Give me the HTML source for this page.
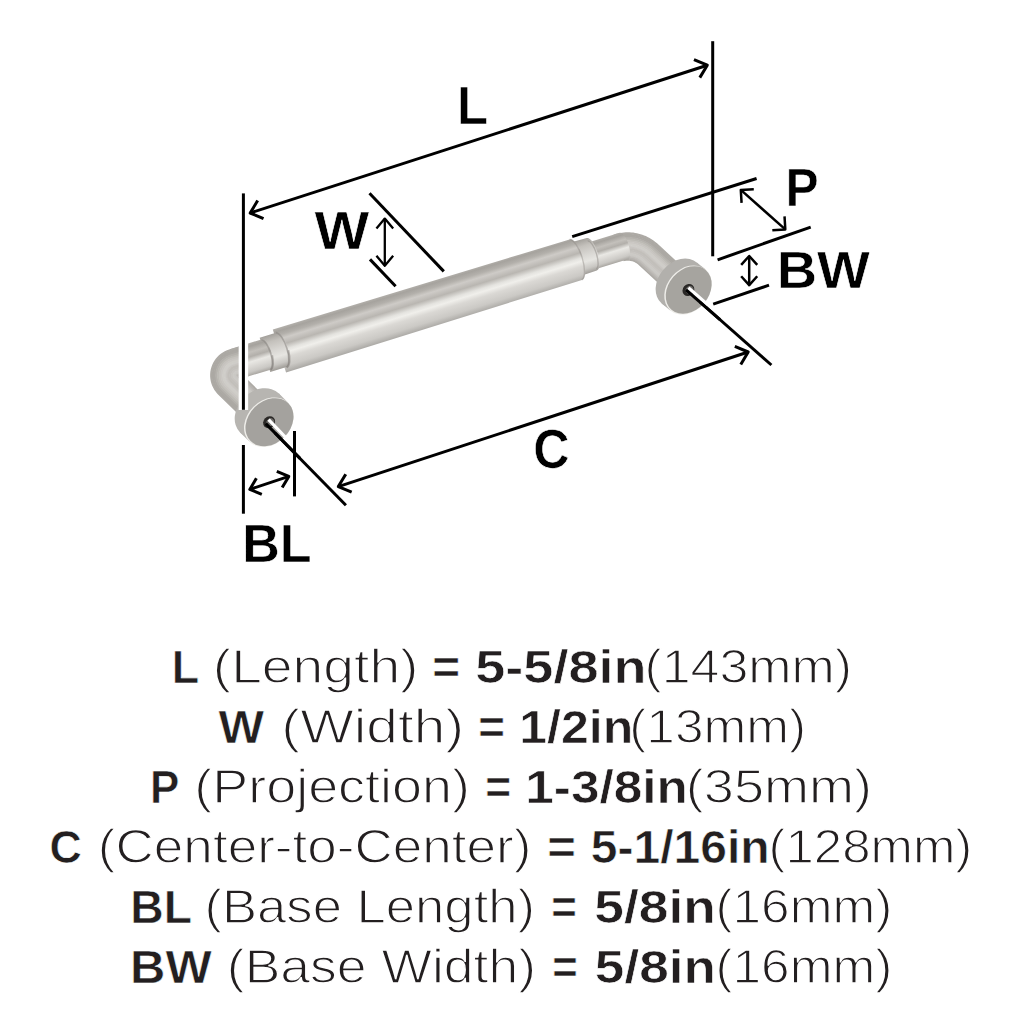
<!DOCTYPE html>
<html><head><meta charset="utf-8"><style>
html,body{margin:0;padding:0;background:#fff;}
svg{display:block;}
text{font-family:"Liberation Sans",sans-serif;}
</style></head><body>
<svg width="1024" height="1024" viewBox="0 0 1024 1024">
<rect width="1024" height="1024" fill="#fff"/>
<defs><linearGradient id="gMain" x1="0" y1="0" x2="0" y2="1"><stop offset="0" stop-color="#b4b1ac"/><stop offset="0.07" stop-color="#a6a39e"/><stop offset="0.16" stop-color="#b3b0ab"/><stop offset="0.25" stop-color="#cecbc7"/><stop offset="0.38" stop-color="#b9b6b1"/><stop offset="0.5" stop-color="#e4e3df"/><stop offset="0.57" stop-color="#f0efeb"/><stop offset="0.68" stop-color="#dad8d4"/><stop offset="0.86" stop-color="#cbc9c5"/><stop offset="0.95" stop-color="#b6b4b0"/><stop offset="1" stop-color="#aaa8a4"/></linearGradient><linearGradient id="gRod" x1="0" y1="0" x2="0" y2="1"><stop offset="0" stop-color="#b0ada8"/><stop offset="0.1" stop-color="#a5a29d"/><stop offset="0.28" stop-color="#c3c0bb"/><stop offset="0.42" stop-color="#b2afaa"/><stop offset="0.58" stop-color="#e9e8e4"/><stop offset="0.7" stop-color="#dddbd7"/><stop offset="0.88" stop-color="#cac8c4"/><stop offset="1" stop-color="#a9a6a1"/></linearGradient><linearGradient id="gCol" x1="0" y1="0" x2="0" y2="1"><stop offset="0" stop-color="#a3a09b"/><stop offset="0.2" stop-color="#c4c1bc"/><stop offset="0.45" stop-color="#d8d6d2"/><stop offset="0.65" stop-color="#e6e5e1"/><stop offset="0.85" stop-color="#c9c7c3"/><stop offset="1" stop-color="#9e9b96"/></linearGradient></defs>
<polygon points="627.34,259.70 625.41,260.46 616.60,233.71 618.41,233.28 620.25,232.92 622.09,232.64 623.95,232.44 625.81,232.32 627.68,232.27 629.54,232.31 631.41,232.42 633.26,232.61 635.11,232.88 636.95,233.23 638.76,233.65 640.56,234.16 642.34,234.73 644.09,235.38 645.81,236.11 647.50,236.90 649.15,237.77 650.77,238.71 652.34,239.71 653.87,240.78 655.35,241.91 657.08,243.36 689.01,272.75 687.54,274.35 655.60,244.97 654.00,243.62 652.59,242.54 651.13,241.52 649.63,240.57 648.10,239.68 646.53,238.85 644.92,238.10 643.28,237.41 641.62,236.79 639.93,236.24 638.22,235.76 636.49,235.36 634.75,235.03 632.99,234.77 631.23,234.59 629.46,234.48 627.68,234.45 625.91,234.49 624.14,234.61 622.37,234.80 620.62,235.07 618.88,235.41 617.15,235.82 624.43,258.52 626.50,257.69" fill="#adaaa5"/><polygon points="626.73,258.25 624.70,259.05 617.00,235.24 618.75,234.82 620.52,234.48 622.30,234.21 624.08,234.01 625.88,233.89 627.68,233.85 629.48,233.88 631.28,233.99 633.07,234.18 634.85,234.44 636.62,234.77 638.37,235.18 640.11,235.67 641.82,236.22 643.51,236.85 645.17,237.55 646.79,238.32 648.39,239.15 649.95,240.06 651.46,241.02 652.94,242.05 654.37,243.15 656.01,244.53 687.95,273.91 686.47,275.51 654.54,246.13 653.01,244.85 651.65,243.81 650.25,242.83 648.81,241.92 647.34,241.06 645.82,240.27 644.28,239.54 642.70,238.87 641.10,238.28 639.48,237.75 637.83,237.29 636.17,236.90 634.49,236.59 632.80,236.34 631.10,236.16 629.40,236.06 627.69,236.03 625.98,236.07 624.27,236.18 622.58,236.37 620.89,236.62 619.21,236.95 617.55,237.35 623.71,257.11 625.90,256.24" fill="#aba8a3"/><polygon points="626.13,256.79 623.98,257.64 617.40,236.77 619.08,236.36 620.78,236.03 622.50,235.77 624.22,235.58 625.95,235.47 627.69,235.43 629.42,235.46 631.15,235.56 632.87,235.74 634.59,235.99 636.29,236.32 637.98,236.71 639.65,237.18 641.30,237.71 642.92,238.32 644.52,238.99 646.09,239.73 647.63,240.53 649.13,241.40 650.59,242.34 652.01,243.33 653.39,244.38 654.94,245.69 686.88,275.07 685.40,276.68 653.47,247.29 652.03,246.08 650.72,245.09 649.38,244.15 647.99,243.26 646.57,242.44 645.12,241.68 643.63,240.98 642.12,240.34 640.58,239.77 639.02,239.26 637.44,238.82 635.84,238.45 634.23,238.14 632.60,237.90 630.97,237.74 629.33,237.64 627.69,237.61 626.05,237.64 624.41,237.75 622.78,237.93 621.16,238.18 619.55,238.49 617.95,238.87 623.00,255.70 625.29,254.78" fill="#aca9a4"/><polygon points="625.52,255.33 623.27,256.24 617.80,238.29 619.42,237.91 621.05,237.59 622.70,237.34 624.36,237.16 626.02,237.05 627.69,237.01 629.36,237.04 631.02,237.14 632.68,237.31 634.33,237.55 635.97,237.86 637.59,238.24 639.20,238.69 640.78,239.20 642.34,239.78 643.88,240.43 645.39,241.14 646.86,241.92 648.31,242.75 649.71,243.65 651.08,244.60 652.40,245.61 653.88,246.85 685.81,276.23 684.34,277.84 652.40,248.46 651.05,247.32 649.79,246.36 648.50,245.46 647.17,244.61 645.81,243.82 644.42,243.09 642.99,242.42 641.54,241.81 640.06,241.26 638.57,240.77 637.05,240.35 635.52,239.99 633.97,239.70 632.41,239.47 630.84,239.31 629.27,239.21 627.70,239.18 626.12,239.22 624.55,239.33 622.98,239.50 621.43,239.73 619.88,240.03 618.35,240.40 622.28,254.30 624.69,253.32" fill="#b4b1ac"/><polygon points="624.92,253.87 622.55,254.83 618.20,239.82 619.75,239.45 621.32,239.14 622.91,238.90 624.50,238.73 626.09,238.62 627.69,238.58 629.29,238.61 630.89,238.71 632.48,238.87 634.07,239.11 635.64,239.40 637.20,239.77 638.74,240.20 640.26,240.69 641.76,241.25 643.24,241.87 644.68,242.55 646.10,243.30 647.49,244.10 648.84,244.96 650.15,245.88 651.42,246.85 652.81,248.01 684.74,277.39 683.27,279.00 651.34,249.62 650.06,248.55 648.86,247.63 647.63,246.77 646.35,245.96 645.05,245.20 643.71,244.50 642.35,243.86 640.96,243.27 639.55,242.75 638.11,242.28 636.66,241.88 635.19,241.53 633.71,241.25 632.21,241.04 630.71,240.88 629.21,240.79 627.70,240.76 626.19,240.80 624.69,240.90 623.19,241.06 621.70,241.29 620.22,241.58 618.75,241.93 621.57,252.89 624.08,251.86" fill="#bcbab4"/><polygon points="624.31,252.42 621.84,253.42 618.60,241.35 620.09,240.99 621.59,240.70 623.11,240.47 624.63,240.30 626.17,240.20 627.70,240.16 629.23,240.19 630.76,240.28 632.29,240.44 633.81,240.66 635.31,240.95 636.81,241.30 638.28,241.71 639.74,242.18 641.18,242.72 642.59,243.31 643.98,243.97 645.34,244.68 646.67,245.45 647.96,246.27 649.22,247.15 650.44,248.08 651.74,249.18 683.67,278.56 682.20,280.16 650.27,250.78 649.08,249.78 647.93,248.91 646.75,248.08 645.53,247.31 644.29,246.59 643.01,245.92 641.71,245.30 640.38,244.74 639.03,244.24 637.66,243.79 636.27,243.41 634.86,243.08 633.45,242.81 632.02,242.60 630.59,242.45 629.15,242.37 627.70,242.34 626.26,242.37 624.82,242.47 623.39,242.62 621.97,242.84 620.55,243.12 619.15,243.45 620.85,251.48 623.48,250.41" fill="#c5c2bd"/><polygon points="623.71,250.96 621.12,252.02 619.00,242.87 620.42,242.53 621.86,242.25 623.31,242.03 624.77,241.87 626.24,241.77 627.70,241.74 629.17,241.77 630.63,241.85 632.09,242.01 633.55,242.22 634.99,242.49 636.42,242.82 637.83,243.22 639.22,243.67 640.60,244.18 641.95,244.75 643.28,245.38 644.58,246.06 645.85,246.80 647.08,247.58 648.29,248.42 649.45,249.31 650.68,250.34 682.60,279.72 681.13,281.32 649.20,251.94 648.09,251.02 647.00,250.18 645.87,249.40 644.71,248.66 643.52,247.97 642.31,247.33 641.06,246.74 639.80,246.21 638.51,245.73 637.20,245.30 635.87,244.93 634.54,244.62 633.18,244.37 631.82,244.17 630.46,244.03 629.08,243.94 627.71,243.92 626.33,243.95 624.96,244.04 623.60,244.19 622.24,244.40 620.89,244.66 619.55,244.98 620.14,250.08 622.87,248.95" fill="#cac7c3"/><polygon points="623.10,249.50 620.41,250.61 619.40,244.40 620.76,244.07 622.13,243.80 623.52,243.59 624.91,243.44 626.31,243.35 627.71,243.32 629.11,243.34 630.51,243.43 631.90,243.57 633.28,243.77 634.66,244.03 636.02,244.35 637.37,244.73 638.70,245.16 640.02,245.65 641.31,246.19 642.57,246.79 643.81,247.44 645.03,248.14 646.21,248.90 647.36,249.70 648.47,250.55 649.61,251.50 681.54,280.88 680.06,282.48 648.14,253.11 647.11,252.25 646.07,251.46 645.00,250.71 643.89,250.00 642.76,249.35 641.60,248.74 640.42,248.18 639.21,247.67 637.99,247.22 636.74,246.81 635.48,246.46 634.21,246.16 632.92,245.92 631.63,245.73 630.33,245.60 629.02,245.52 627.71,245.49 626.41,245.53 625.10,245.61 623.80,245.75 622.51,245.95 621.22,246.20 619.95,246.51 619.42,248.67 622.27,247.49" fill="#cfcdc8"/><polygon points="622.50,248.05 619.69,249.20 619.80,245.93 621.09,245.61 622.40,245.36 623.72,245.16 625.05,245.01 626.38,244.93 627.71,244.89 629.05,244.92 630.38,245.00 631.70,245.14 633.02,245.33 634.33,245.58 635.63,245.88 636.92,246.24 638.19,246.65 639.44,247.12 640.67,247.63 641.87,248.20 643.05,248.82 644.21,249.49 645.33,250.21 646.42,250.97 647.48,251.78 648.54,252.66 680.47,282.04 678.99,283.64 647.07,254.27 646.13,253.48 645.14,252.73 644.12,252.02 643.07,251.35 642.00,250.73 640.90,250.15 639.78,249.62 638.63,249.14 637.47,248.71 636.29,248.32 635.09,247.99 633.88,247.71 632.66,247.48 631.43,247.30 630.20,247.17 628.96,247.10 627.72,247.07 626.48,247.10 625.24,247.18 624.00,247.32 622.77,247.50 621.56,247.74 620.35,248.03 618.71,247.26 621.66,246.03" fill="#cfcdc9"/><polygon points="621.89,246.59 618.98,247.80 620.20,247.45 621.43,247.16 622.67,246.91 623.93,246.72 625.18,246.59 626.45,246.50 627.72,246.47 628.98,246.50 630.25,246.57 631.51,246.70 632.76,246.89 634.01,247.12 635.24,247.41 636.46,247.75 637.67,248.14 638.85,248.58 640.02,249.08 641.17,249.62 642.29,250.20 643.39,250.84 644.46,251.52 645.49,252.25 646.50,253.02 647.48,253.83 679.40,283.20 677.93,284.80 646.00,255.43 645.14,254.72 644.21,254.01 643.25,253.33 642.26,252.70 641.24,252.11 640.20,251.57 639.13,251.06 638.05,250.61 636.95,250.20 635.83,249.84 634.70,249.52 633.56,249.25 632.40,249.03 631.24,248.86 630.07,248.74 628.90,248.67 627.72,248.65 626.55,248.68 625.37,248.76 624.21,248.88 623.04,249.06 621.89,249.28 620.75,249.56 617.99,245.86 621.06,244.58" fill="#c9c6c2"/><polygon points="621.29,245.13 618.26,246.39 620.60,248.98 621.76,248.70 622.94,248.47 624.13,248.29 625.32,248.16 626.52,248.08 627.72,248.05 628.92,248.07 630.12,248.14 631.31,248.27 632.50,248.44 633.68,248.67 634.85,248.94 636.01,249.26 637.15,249.63 638.27,250.05 639.38,250.52 640.47,251.03 641.53,251.59 642.57,252.19 643.58,252.83 644.56,253.52 645.52,254.25 646.41,254.99 678.33,284.36 676.86,285.96 644.94,256.59 644.16,255.95 643.28,255.28 642.37,254.64 641.44,254.05 640.48,253.49 639.49,252.98 638.49,252.51 637.47,252.07 636.43,251.69 635.38,251.35 634.31,251.05 633.23,250.80 632.14,250.59 631.04,250.43 629.94,250.32 628.83,250.25 627.73,250.23 626.62,250.25 625.51,250.33 624.41,250.45 623.31,250.61 622.23,250.83 621.15,251.08 617.28,244.45 620.46,243.12" fill="#c2bfba"/><polygon points="620.69,243.67 617.55,244.99 621.00,250.50 622.10,250.24 623.21,250.02 624.33,249.85 625.46,249.73 626.59,249.65 627.72,249.63 628.86,249.65 629.99,249.72 631.12,249.83 632.24,250.00 633.35,250.21 634.46,250.47 635.55,250.77 636.63,251.12 637.69,251.52 638.74,251.96 639.76,252.44 640.77,252.97 641.75,253.54 642.70,254.15 643.63,254.79 644.53,255.48 645.34,256.15 677.26,285.52 675.79,287.12 643.87,257.76 643.18,257.19 642.35,256.55 641.49,255.96 640.62,255.40 639.71,254.87 638.79,254.39 637.85,253.95 636.89,253.54 635.91,253.18 634.92,252.86 633.92,252.58 632.90,252.34 631.88,252.15 630.85,251.99 629.81,251.89 628.77,251.82 627.73,251.81 626.69,251.83 625.65,251.90 624.61,252.01 623.58,252.17 622.56,252.37 621.55,252.61 616.56,243.04 619.85,241.66" fill="#c3c0bc"/><polygon points="620.08,242.22 616.83,243.58 621.40,252.03 622.43,251.78 623.48,251.58 624.54,251.42 625.60,251.30 626.66,251.23 627.73,251.21 628.80,251.23 629.86,251.29 630.92,251.40 631.98,251.55 633.03,251.75 634.07,252.00 635.09,252.28 636.11,252.61 637.11,252.98 638.09,253.40 639.06,253.85 640.00,254.35 640.93,254.88 641.83,255.46 642.70,256.07 643.55,256.72 644.28,257.31 676.20,286.68 674.72,288.29 642.80,258.92 642.19,258.42 641.42,257.83 640.62,257.27 639.80,256.74 638.95,256.26 638.09,255.80 637.21,255.39 636.31,255.01 635.39,254.67 634.47,254.37 633.53,254.11 632.58,253.88 631.62,253.70 630.65,253.56 629.68,253.46 628.71,253.40 627.74,253.38 626.76,253.41 625.79,253.47 624.82,253.58 623.85,253.72 622.90,253.91 621.95,254.14 615.85,241.64 619.25,240.20" fill="#c8c5c1"/><polygon points="619.48,240.76 616.12,242.17 621.80,253.56 622.77,253.32 623.75,253.13 624.74,252.98 625.73,252.87 626.73,252.81 627.73,252.78 628.73,252.80 629.73,252.86 630.73,252.97 631.72,253.11 632.70,253.30 633.68,253.52 634.64,253.79 635.59,254.10 636.53,254.45 637.45,254.84 638.36,255.27 639.24,255.73 640.11,256.23 640.95,256.77 641.77,257.34 642.57,257.95 643.21,258.48 675.13,287.84 673.65,289.45 641.74,260.08 641.21,259.65 640.49,259.10 639.74,258.58 638.98,258.09 638.19,257.64 637.39,257.22 636.56,256.83 635.73,256.48 634.87,256.16 634.01,255.88 633.14,255.63 632.25,255.43 631.36,255.26 630.46,255.13 629.55,255.03 628.65,254.98 627.74,254.96 626.83,254.98 625.92,255.04 625.02,255.14 624.12,255.28 623.23,255.45 622.35,255.66 615.13,240.23 618.64,238.75" fill="#cccac6"/><polygon points="618.87,239.30 615.40,240.77 622.20,255.08 623.10,254.87 624.02,254.69 624.94,254.55 625.87,254.45 626.80,254.38 627.74,254.36 628.67,254.38 629.60,254.43 630.53,254.53 631.46,254.67 632.37,254.84 633.28,255.05 634.18,255.30 635.07,255.59 635.95,255.92 636.81,256.28 637.65,256.68 638.48,257.11 639.29,257.58 640.08,258.08 640.84,258.62 641.58,259.18 642.14,259.64 674.06,289.01 672.58,290.61 640.67,261.24 640.23,260.89 639.56,260.38 638.87,259.89 638.16,259.44 637.43,259.02 636.68,258.63 635.92,258.27 635.14,257.94 634.36,257.65 633.55,257.39 632.74,257.16 631.92,256.97 631.10,256.81 630.26,256.69 629.43,256.61 628.59,256.55 627.74,256.54 626.90,256.56 626.06,256.61 625.22,256.71 624.39,256.83 623.57,256.99 622.75,257.19 614.42,238.82 618.04,237.29" fill="#cac8c4"/><polygon points="618.27,237.84 614.69,239.36 622.60,256.61 623.44,256.41 624.29,256.24 625.15,256.11 626.01,256.02 626.88,255.96 627.74,255.94 628.61,255.95 629.47,256.01 630.34,256.10 631.20,256.22 632.05,256.38 632.89,256.58 633.73,256.81 634.55,257.08 635.37,257.38 636.17,257.72 636.95,258.09 637.72,258.49 638.47,258.93 639.20,259.39 639.91,259.89 640.60,260.42 641.08,260.80 672.99,290.17 671.52,291.77 639.60,262.41 639.24,262.12 638.63,261.65 637.99,261.21 637.34,260.79 636.67,260.40 635.98,260.04 635.28,259.71 634.56,259.41 633.84,259.14 633.10,258.90 632.35,258.69 631.60,258.51 630.84,258.37 630.07,258.26 629.30,258.18 628.52,258.13 627.75,258.12 626.97,258.14 626.20,258.19 625.43,258.27 624.66,258.39 623.90,258.54 623.15,258.72 613.70,237.42 617.43,235.83" fill="#c1beba"/><polygon points="617.66,236.39 613.97,237.95 623.00,258.14 623.77,257.95 624.56,257.80 625.35,257.68 626.15,257.59 626.95,257.54 627.75,257.52 628.55,257.53 629.35,257.58 630.14,257.66 630.93,257.78 631.72,257.93 632.50,258.11 633.27,258.32 634.03,258.57 634.78,258.85 635.52,259.16 636.25,259.50 636.96,259.87 637.65,260.28 638.32,260.71 638.98,261.17 639.62,261.65 640.01,261.96 671.92,291.33 670.45,292.93 638.54,263.57 638.26,263.35 637.70,262.92 637.11,262.52 636.52,262.14 635.90,261.78 635.28,261.45 634.63,261.15 633.98,260.88 633.32,260.63 632.64,260.41 631.96,260.22 631.27,260.06 630.57,259.93 629.87,259.82 629.17,259.75 628.46,259.71 627.75,259.69 627.04,259.71 626.34,259.76 625.63,259.83 624.93,259.94 624.24,260.08 623.55,260.24 612.99,236.01 616.83,234.38" fill="#b7b4b0"/><polygon points="617.06,234.93 613.26,236.55 623.39,259.66 624.11,259.49 624.83,259.35 625.55,259.24 626.28,259.16 627.02,259.11 627.75,259.09 628.48,259.11 629.22,259.15 629.95,259.23 630.67,259.33 631.39,259.47 632.11,259.64 632.82,259.83 633.51,260.06 634.20,260.32 634.88,260.60 635.54,260.92 636.19,261.26 636.83,261.62 637.45,262.02 638.05,262.44 638.63,262.88 638.94,263.13 670.85,292.49 669.79,293.65 637.88,264.29 637.65,264.12 637.12,263.71 636.57,263.33 636.01,262.97 635.43,262.64 634.84,262.33 634.24,262.04 633.62,261.78 633.00,261.55 632.36,261.35 631.72,261.17 631.07,261.01 630.41,260.89 629.75,260.79 629.09,260.72 628.42,260.68 627.76,260.67 627.09,260.69 626.42,260.73 625.76,260.80 625.10,260.90 624.44,261.03 623.79,261.19 612.54,235.14 616.45,233.47" fill="#adaaa5"/>
<ellipse cx="679.4" cy="283.2" rx="27" ry="21" transform="rotate(-49 679.4 283.2)" fill="#b2b0ac"/><polygon points="697.1,262.8 705.7,269.6 670.3,310.4 661.7,303.6" fill="#b2b0ac"/><ellipse cx="688.0" cy="290.0" rx="27" ry="21" transform="rotate(-49 688.0 290.0)" fill="#eeede9"/><ellipse cx="688.5" cy="290.5" rx="26.2" ry="20.2" transform="rotate(-49 688.0 290.0)" fill="#a6a49f"/><ellipse cx="688.4" cy="290.0" rx="6.4" ry="5.6" transform="rotate(-49 688.4 290.0)" fill="#2a2826"/><ellipse cx="689.1999999999999" cy="290.8" rx="4.2" ry="3.6" transform="rotate(-49 688.4 290.0)" fill="#6d6b68"/>
<g transform="translate(440.0,301.5) rotate(-17.1)">
<path d="M158,-12.8 L192,-12.8 A5 13.8 0 0 1 192,14.8 L158,14.8 Z" fill="url(#gRod)"/>
<path d="M141,-18.0 L159,-17.5 A6 17 0 0 1 159,16.5 L141,17.0 Z" fill="url(#gCol)"/>
<path d="M-168,-22.5 L142,-21.2 A7.5 21.2 0 0 1 142,21.2 L-168,22.5 Z" fill="url(#gMain)"/>
<path d="M142,-21.2 A7.5 21.2 0 0 1 142,21" fill="none" stroke="#8d8a86" stroke-width="1.4" opacity="0.45"/>
<path d="M159,-14.5 A5 14.8 0 0 1 159,15" fill="none" stroke="#8d8a86" stroke-width="1.4" opacity="0.5"/>
<path d="M-183,-18.5 L-166,-18.5 A7 18 0 0 1 -166,17.5 L-183,17.5 Z" fill="url(#gCol)"/>
<path d="M-166,-18.5 A7 18.5 0 0 1 -166,18" fill="none" stroke="#8a8783" stroke-width="1.6" opacity="0.55"/>
<path d="M-215,-16.3 L-182,-16.3 A6 15.8 0 0 1 -182,15.3 L-215,15.3 Z" fill="url(#gRod)"/>
<path d="M-182,-16 A6 16 0 0 1 -182,15.5" fill="none" stroke="#8a8783" stroke-width="1.6" opacity="0.55"/>
<path d="M-176.3,2 A6 15.8 0 0 1 -182,15.3" fill="none" stroke="#7f7c78" stroke-width="2" opacity="0.5"/>
<path d="M-159.3,2 A7 18.5 0 0 1 -166,18" fill="none" stroke="#7f7c78" stroke-width="2" opacity="0.5"/>
</g>
<polygon points="248.62,424.18 218.57,394.93 217.30,393.65 215.77,391.84 214.40,389.91 213.21,387.86 212.20,385.72 211.38,383.49 210.76,381.20 210.35,378.87 210.14,376.51 210.14,374.14 210.34,371.78 210.75,369.45 211.37,367.16 212.18,364.93 213.19,362.78 214.38,360.73 215.74,358.80 217.27,356.99 218.95,355.32 220.78,353.80 222.73,352.45 224.78,351.28 226.94,350.29 229.14,349.51 239.35,346.38 240.04,348.61 229.83,351.73 227.82,352.45 225.85,353.36 223.97,354.43 222.19,355.66 220.52,357.04 218.99,358.57 217.59,360.22 216.34,361.99 215.25,363.87 214.34,365.83 213.59,367.86 213.03,369.95 212.65,372.08 212.47,374.24 212.47,376.41 212.66,378.56 213.04,380.69 213.61,382.78 214.35,384.82 215.27,386.78 216.36,388.65 217.61,390.41 219.01,392.07 220.20,393.26 250.25,422.51" fill="#adaaa5"/><polygon points="249.83,422.94 219.78,393.69 218.57,392.47 217.14,390.78 215.86,388.97 214.74,387.05 213.80,385.05 213.03,382.97 212.45,380.83 212.07,378.64 211.87,376.43 211.87,374.21 212.06,372.01 212.45,369.82 213.02,367.68 213.78,365.60 214.72,363.59 215.84,361.67 217.11,359.86 218.55,358.16 220.12,356.60 221.83,355.18 223.65,353.92 225.58,352.82 227.59,351.90 229.65,351.16 239.86,348.04 240.54,350.27 230.34,353.39 228.47,354.06 226.64,354.90 224.89,355.89 223.24,357.04 221.69,358.33 220.26,359.75 218.96,361.28 217.80,362.93 216.79,364.67 215.94,366.49 215.25,368.38 214.72,370.33 214.37,372.31 214.20,374.32 214.20,376.33 214.38,378.33 214.73,380.32 215.26,382.26 215.95,384.15 216.81,385.97 217.82,387.71 218.98,389.35 220.29,390.89 221.41,392.02 251.45,421.26" fill="#aba8a3"/><polygon points="251.04,421.69 220.99,392.45 219.85,391.30 218.51,389.72 217.32,388.03 216.28,386.25 215.40,384.38 214.69,382.44 214.15,380.45 213.78,378.41 213.60,376.35 213.60,374.29 213.78,372.23 214.14,370.20 214.67,368.20 215.38,366.26 216.26,364.39 217.30,362.61 218.49,360.92 219.82,359.34 221.29,357.88 222.87,356.56 224.57,355.39 226.37,354.36 228.24,353.50 230.16,352.82 240.37,349.70 241.05,351.93 230.86,355.05 229.12,355.66 227.43,356.44 225.82,357.36 224.29,358.42 222.85,359.61 221.53,360.92 220.33,362.34 219.26,363.86 218.33,365.47 217.54,367.16 216.90,368.91 216.41,370.70 216.09,372.54 215.93,374.39 215.93,376.25 216.10,378.10 216.42,379.94 216.91,381.73 217.55,383.48 218.34,385.16 219.28,386.77 220.35,388.29 221.56,389.71 222.62,390.77 252.66,420.02" fill="#aca9a4"/><polygon points="252.25,420.45 222.20,391.20 221.12,390.12 219.88,388.66 218.78,387.10 217.81,385.44 217.00,383.71 216.34,381.91 215.84,380.07 215.50,378.18 215.33,376.28 215.33,374.36 215.50,372.46 215.83,370.57 216.33,368.73 216.98,366.93 217.79,365.20 218.76,363.54 219.86,361.98 221.09,360.51 222.45,359.17 223.92,357.94 225.50,356.85 227.16,355.91 228.90,355.11 230.68,354.47 240.87,351.35 241.56,353.59 231.37,356.70 229.78,357.27 228.22,357.98 226.74,358.83 225.33,359.80 224.02,360.89 222.81,362.10 221.70,363.40 220.72,364.80 219.86,366.28 219.14,367.82 218.55,369.43 218.11,371.08 217.81,372.76 217.66,374.46 217.66,376.17 217.81,377.88 218.11,379.56 218.56,381.21 219.15,382.81 219.88,384.36 220.74,385.83 221.72,387.23 222.83,388.53 223.83,389.53 253.87,418.78" fill="#b4b1ac"/><polygon points="253.45,419.21 223.41,389.96 222.39,388.94 221.25,387.60 220.23,386.16 219.35,384.64 218.60,383.04 217.99,381.39 217.53,379.69 217.22,377.95 217.06,376.20 217.06,374.44 217.21,372.68 217.52,370.95 217.98,369.25 218.58,367.59 219.33,366.00 220.21,364.48 221.23,363.04 222.37,361.69 223.62,360.45 224.97,359.32 226.42,358.32 227.95,357.45 229.55,356.71 231.19,356.13 241.38,353.01 242.06,355.24 231.88,358.36 230.43,358.88 229.01,359.52 227.66,360.30 226.38,361.18 225.19,362.18 224.08,363.27 223.08,364.46 222.18,365.73 221.40,367.08 220.74,368.49 220.20,369.95 219.80,371.46 219.53,372.99 219.39,374.54 219.39,376.10 219.53,377.65 219.81,379.18 220.21,380.68 220.75,382.14 221.41,383.55 222.20,384.90 223.09,386.17 224.10,387.35 225.04,388.29 255.08,417.54" fill="#bcbab4"/><polygon points="254.66,417.97 224.62,388.72 223.66,387.76 222.62,386.53 221.69,385.22 220.88,383.83 220.20,382.37 219.64,380.86 219.22,379.31 218.94,377.73 218.80,376.12 218.79,374.51 218.93,372.91 219.21,371.33 219.63,369.77 220.18,368.26 220.87,366.80 221.67,365.41 222.60,364.10 223.64,362.87 224.78,361.73 226.02,360.70 227.34,359.79 228.74,358.99 230.20,358.32 231.70,357.78 241.89,354.67 242.57,356.90 232.40,360.01 231.08,360.48 229.81,361.07 228.59,361.76 227.43,362.56 226.35,363.46 225.35,364.45 224.45,365.52 223.64,366.67 222.93,367.88 222.34,369.16 221.86,370.48 221.49,371.83 221.25,373.21 221.12,374.61 221.13,376.02 221.25,377.42 221.50,378.80 221.86,380.16 222.35,381.47 222.95,382.74 223.65,383.96 224.46,385.10 225.37,386.18 226.25,387.05 256.29,416.30" fill="#c5c2bd"/><polygon points="255.87,416.73 225.83,387.48 224.93,386.58 223.99,385.47 223.15,384.28 222.41,383.02 221.79,381.70 221.29,380.34 220.91,378.93 220.66,377.50 220.53,376.04 220.53,374.59 220.65,373.14 220.91,371.70 221.28,370.29 221.78,368.93 222.40,367.61 223.13,366.35 223.97,365.15 224.91,364.04 225.95,363.02 227.07,362.08 228.27,361.25 229.53,360.53 230.86,359.93 232.22,359.44 242.39,356.33 243.08,358.56 232.91,361.67 231.74,362.09 230.60,362.61 229.51,363.23 228.48,363.94 227.52,364.74 226.63,365.62 225.82,366.58 225.10,367.60 224.47,368.69 223.94,369.82 223.51,371.00 223.18,372.21 222.97,373.44 222.86,374.69 222.86,375.94 222.97,377.19 223.19,378.42 223.52,379.63 223.95,380.81 224.48,381.94 225.11,383.02 225.83,384.04 226.64,385.00 227.46,385.81 257.50,415.05" fill="#cac7c3"/><polygon points="257.08,415.48 227.04,386.24 226.20,385.41 225.36,384.41 224.61,383.34 223.95,382.22 223.39,381.04 222.94,379.81 222.60,378.55 222.37,377.27 222.26,375.97 222.26,374.66 222.37,373.36 222.60,372.08 222.94,370.82 223.38,369.59 223.94,368.41 224.59,367.28 225.34,366.21 226.19,365.22 227.11,364.30 228.12,363.46 229.19,362.72 230.32,362.08 231.51,361.53 232.73,361.10 242.90,357.99 243.58,360.22 233.42,363.32 232.39,363.69 231.39,364.15 230.43,364.70 229.53,365.32 228.68,366.03 227.90,366.80 227.19,367.64 226.56,368.54 226.01,369.49 225.54,370.49 225.16,371.52 224.88,372.58 224.68,373.67 224.59,374.76 224.59,375.86 224.69,376.96 224.88,378.04 225.17,379.10 225.55,380.14 226.01,381.13 226.57,382.08 227.20,382.98 227.92,383.82 228.67,384.56 258.71,413.81" fill="#cfcdc8"/><polygon points="258.29,414.24 228.25,384.99 227.48,384.23 226.73,383.35 226.06,382.41 225.48,381.41 224.99,380.37 224.60,379.29 224.29,378.17 224.09,377.04 223.99,375.89 223.99,374.74 224.09,373.59 224.29,372.45 224.59,371.34 224.98,370.26 225.47,369.21 226.05,368.22 226.72,367.27 227.46,366.39 228.28,365.58 229.17,364.84 230.11,364.19 231.11,363.62 232.16,363.14 233.24,362.75 243.41,359.64 244.09,361.87 233.94,364.98 233.04,365.30 232.18,365.69 231.36,366.16 230.58,366.70 229.85,367.31 229.17,367.98 228.56,368.70 228.02,369.48 227.54,370.30 227.14,371.15 226.81,372.04 226.57,372.96 226.40,373.89 226.32,374.84 226.32,375.79 226.40,376.73 226.57,377.66 226.82,378.58 227.15,379.47 227.55,380.33 228.03,381.14 228.57,381.92 229.19,382.64 229.88,383.32 259.92,412.57" fill="#cfcdc9"/><polygon points="259.50,413.00 229.46,383.75 228.75,383.05 228.10,382.29 227.52,381.47 227.02,380.60 226.59,379.70 226.25,378.76 225.99,377.79 225.81,376.81 225.72,375.81 225.72,374.81 225.81,373.81 225.98,372.83 226.24,371.86 226.58,370.92 227.01,370.02 227.51,369.15 228.09,368.33 228.73,367.57 229.44,366.86 230.21,366.22 231.04,365.65 231.91,365.16 232.82,364.74 233.76,364.41 243.92,361.30 244.60,363.53 234.45,366.63 233.69,366.90 232.97,367.24 232.28,367.63 231.63,368.08 231.01,368.59 230.45,369.15 229.93,369.76 229.48,370.41 229.08,371.10 228.74,371.82 228.47,372.57 228.26,373.34 228.12,374.12 228.05,374.91 228.05,375.71 228.12,376.50 228.26,377.28 228.47,378.05 228.74,378.80 229.08,379.52 229.48,380.21 229.94,380.86 230.46,381.46 231.09,382.08 261.13,411.33" fill="#c9c6c2"/><polygon points="260.71,411.76 230.67,382.51 230.02,381.87 229.47,381.22 228.98,380.53 228.55,379.80 228.19,379.03 227.90,378.23 227.68,377.42 227.53,376.58 227.45,375.73 227.45,374.89 227.53,374.04 227.67,373.21 227.89,372.39 228.19,371.59 228.55,370.82 228.97,370.09 229.46,369.39 230.01,368.74 230.61,368.15 231.26,367.60 231.96,367.12 232.70,366.70 233.47,366.35 234.27,366.06 244.42,362.96 245.10,365.19 234.96,368.29 234.35,368.51 233.76,368.78 233.20,369.10 232.67,369.46 232.18,369.87 231.72,370.33 231.31,370.82 230.94,371.35 230.61,371.90 230.34,372.49 230.12,373.09 229.95,373.71 229.84,374.35 229.78,374.99 229.78,375.63 229.84,376.27 229.95,376.91 230.12,377.53 230.34,378.13 230.62,378.71 230.94,379.27 231.31,379.79 231.73,380.29 232.30,380.84 262.34,410.09" fill="#c2bfba"/><polygon points="261.92,410.52 231.88,381.27 231.29,380.69 230.84,380.16 230.44,379.59 230.09,378.99 229.79,378.36 229.55,377.71 229.37,377.04 229.25,376.35 229.18,375.66 229.18,374.96 229.24,374.27 229.37,373.58 229.55,372.91 229.79,372.25 230.08,371.62 230.43,371.02 230.83,370.45 231.28,369.92 231.78,369.43 232.31,368.99 232.88,368.59 233.49,368.24 234.12,367.95 234.78,367.72 244.93,364.62 245.61,366.85 235.48,369.95 235.00,370.11 234.55,370.32 234.13,370.56 233.72,370.84 233.34,371.16 233.00,371.50 232.68,371.88 232.40,372.28 232.15,372.71 231.94,373.15 231.77,373.61 231.64,374.09 231.56,374.57 231.52,375.06 231.52,375.55 231.56,376.04 231.65,376.53 231.77,377.00 231.94,377.46 232.15,377.91 232.40,378.33 232.68,378.73 233.00,379.11 233.51,379.60 263.55,408.84" fill="#c3c0bc"/><polygon points="263.13,409.27 233.09,380.03 232.56,379.52 232.21,379.10 231.90,378.66 231.62,378.19 231.39,377.69 231.20,377.18 231.06,376.66 230.96,376.12 230.92,375.58 230.92,375.04 230.96,374.49 231.06,373.96 231.20,373.43 231.39,372.92 231.62,372.43 231.89,371.96 232.20,371.51 232.55,371.10 232.94,370.71 233.36,370.37 233.81,370.06 234.28,369.79 234.77,369.56 235.30,369.37 245.44,366.27 246.12,368.50 235.99,371.60 235.65,371.72 235.34,371.86 235.05,372.03 234.77,372.22 234.51,372.44 234.27,372.68 234.05,372.94 233.85,373.22 233.68,373.51 233.54,373.82 233.42,374.14 233.34,374.46 233.28,374.80 233.25,375.14 233.25,375.48 233.28,375.81 233.34,376.15 233.43,376.48 233.54,376.79 233.69,377.10 233.86,377.39 234.05,377.67 234.27,377.93 234.71,378.36 264.76,407.60" fill="#c8c5c1"/><polygon points="264.34,408.03 234.30,378.79 233.83,378.34 233.58,378.04 233.35,377.72 233.16,377.38 232.99,377.03 232.85,376.66 232.75,376.28 232.68,375.89 232.65,375.50 232.65,375.11 232.68,374.72 232.75,374.33 232.85,373.95 232.99,373.59 233.15,373.23 233.35,372.89 233.58,372.57 233.83,372.27 234.11,372.00 234.41,371.75 234.73,371.52 235.07,371.33 235.43,371.16 235.81,371.03 245.94,367.93 246.63,370.16 236.50,373.26 236.31,373.33 236.14,373.40 235.97,373.50 235.82,373.60 235.68,373.72 235.54,373.86 235.42,374.00 235.31,374.15 235.22,374.31 235.14,374.48 235.08,374.66 235.03,374.84 234.99,375.02 234.98,375.21 234.98,375.40 235.00,375.58 235.03,375.77 235.08,375.95 235.14,376.13 235.22,376.29 235.32,376.46 235.42,376.61 235.55,376.75 235.92,377.11 265.96,406.36" fill="#cccac6"/><polygon points="265.55,406.79 235.51,377.54 235.10,377.16 234.95,376.98 234.81,376.78 234.69,376.57 234.59,376.36 234.51,376.13 234.44,375.90 234.40,375.66 234.38,375.42 234.38,375.18 234.40,374.95 234.44,374.71 234.50,374.48 234.59,374.25 234.69,374.04 234.81,373.83 234.95,373.63 235.10,373.45 235.27,373.28 235.46,373.13 235.65,372.99 235.86,372.87 236.08,372.77 236.32,372.68 246.45,369.59 247.13,371.82 237.02,374.91 236.96,374.93 236.93,374.95 236.90,374.96 236.87,374.98 236.84,375.01 236.82,375.03 236.79,375.06 236.77,375.09 236.76,375.12 236.74,375.15 236.73,375.18 236.72,375.22 236.71,375.25 236.71,375.29 236.71,375.32 236.71,375.36 236.72,375.39 236.73,375.42 236.74,375.46 236.76,375.49 236.77,375.52 236.79,375.55 236.82,375.57 237.13,375.87 267.17,405.12" fill="#cac8c4"/><polygon points="266.75,405.55 236.71,376.30 236.38,375.98 236.32,375.91 236.27,375.84 236.22,375.77 236.19,375.69 236.16,375.61 236.13,375.52 236.12,375.43 236.11,375.35 236.11,375.26 236.12,375.17 236.13,375.09 236.16,375.00 236.19,374.92 236.22,374.84 236.27,374.76 236.32,374.69 236.38,374.62 236.44,374.56 236.51,374.51 236.58,374.46 236.65,374.41 236.73,374.38 236.84,374.34 246.96,371.25 247.64,373.48 237.53,376.57 237.61,376.54 237.72,376.49 237.82,376.43 237.92,376.36 238.01,376.29 238.09,376.21 238.17,376.12 238.23,376.02 238.29,375.92 238.34,375.81 238.38,375.70 238.41,375.59 238.43,375.48 238.44,375.36 238.44,375.24 238.43,375.13 238.41,375.01 238.38,374.90 238.34,374.79 238.29,374.68 238.23,374.58 238.16,374.49 238.09,374.40 238.34,374.63 268.38,403.88" fill="#c1beba"/><polygon points="267.96,404.31 237.92,375.06 237.65,374.80 237.69,374.85 237.73,374.91 237.76,374.96 237.79,375.02 237.81,375.08 237.83,375.14 237.84,375.21 237.84,375.27 237.84,375.33 237.84,375.40 237.83,375.46 237.81,375.52 237.79,375.58 237.76,375.64 237.73,375.70 237.69,375.75 237.65,375.80 237.60,375.85 237.55,375.89 237.50,375.92 237.44,375.95 237.39,375.98 237.35,376.00 247.46,372.90 248.15,375.13 238.04,378.22 238.27,378.14 238.51,378.03 238.74,377.90 238.97,377.74 239.17,377.57 239.36,377.38 239.54,377.18 239.69,376.96 239.83,376.72 239.94,376.48 240.03,376.23 240.10,375.97 240.15,375.70 240.17,375.43 240.17,375.17 240.15,374.90 240.10,374.63 240.03,374.37 239.94,374.12 239.82,373.88 239.69,373.64 239.53,373.42 239.36,373.22 239.55,373.39 269.59,402.63" fill="#b7b4b0"/><polygon points="269.17,403.06 239.13,373.82 238.92,373.63 239.06,373.79 239.18,373.97 239.29,374.15 239.39,374.35 239.46,374.55 239.52,374.76 239.56,374.98 239.57,375.19 239.57,375.41 239.56,375.62 239.52,375.84 239.46,376.05 239.39,376.25 239.30,376.45 239.19,376.63 239.06,376.81 238.92,376.98 238.77,377.13 238.60,377.27 238.42,377.39 238.24,377.50 238.04,377.59 237.86,377.65 247.97,374.56 248.48,376.22 238.38,379.31 238.69,379.19 239.03,379.04 239.35,378.86 239.65,378.65 239.93,378.41 240.20,378.15 240.43,377.87 240.65,377.57 240.83,377.25 240.99,376.92 241.11,376.57 241.21,376.21 241.27,375.85 241.31,375.48 241.31,375.11 241.27,374.75 241.21,374.38 241.11,374.03 240.99,373.68 240.83,373.35 240.64,373.03 240.43,372.73 240.19,372.45 240.34,372.58 270.38,401.82" fill="#adaaa5"/>
<ellipse cx="259.5" cy="413.0" rx="27.5" ry="21.8" transform="rotate(-45 259.5 413.0)" fill="#b7b5b1"/><polygon points="278.9,393.6 288.2,402.8 249.4,441.6 240.1,432.4" fill="#b7b5b1"/><ellipse cx="268.8" cy="422.2" rx="27.5" ry="21.8" transform="rotate(-45 268.8 422.2)" fill="#eeede9"/><ellipse cx="269.3" cy="422.7" rx="26.7" ry="21.0" transform="rotate(-45 268.8 422.2)" fill="#a4a29e"/><ellipse cx="269.1" cy="422.2" rx="6.4" ry="5.6" transform="rotate(-45 269.1 422.2)" fill="#2a2826"/><ellipse cx="269.90000000000003" cy="423.0" rx="4.2" ry="3.6" transform="rotate(-45 269.1 422.2)" fill="#6d6b68"/>
<line x1="243.4" y1="330" x2="243.4" y2="410" stroke="#fff" stroke-width="9.5"/>
<line x1="712.70" y1="41.20" x2="712.70" y2="256.30" stroke="#000" stroke-width="3" stroke-linecap="butt"/><line x1="250.20" y1="213.00" x2="707.30" y2="65.20" stroke="#000" stroke-width="3" stroke-linecap="butt"/><polyline points="263.54,218.68 250.20,213.00 257.69,200.58" fill="none" stroke="#000" stroke-width="3" stroke-linejoin="round"/><polyline points="693.96,59.52 707.30,65.20 699.81,77.62" fill="none" stroke="#000" stroke-width="3" stroke-linejoin="round"/><line x1="369.50" y1="193.30" x2="443.80" y2="271.40" stroke="#000" stroke-width="3" stroke-linecap="butt"/><line x1="370.00" y1="259.40" x2="395.60" y2="286.30" stroke="#000" stroke-width="3" stroke-linecap="butt"/><line x1="384.80" y1="218.60" x2="384.80" y2="265.80" stroke="#000" stroke-width="2.3" stroke-linecap="butt"/><polyline points="376.44,228.56 384.80,218.60 393.16,228.56" fill="none" stroke="#000" stroke-width="2.3" stroke-linejoin="round"/><polyline points="393.16,255.84 384.80,265.80 376.44,255.84" fill="none" stroke="#000" stroke-width="2.3" stroke-linejoin="round"/><line x1="572.20" y1="236.60" x2="756.60" y2="178.50" stroke="#000" stroke-width="3" stroke-linecap="butt"/><line x1="717.60" y1="259.80" x2="810.70" y2="227.10" stroke="#000" stroke-width="3" stroke-linecap="butt"/><line x1="740.80" y1="189.90" x2="785.30" y2="229.40" stroke="#000" stroke-width="2.5" stroke-linecap="butt"/><polyline points="741.57,202.88 740.80,189.90 753.78,189.13" fill="none" stroke="#000" stroke-width="2.5" stroke-linejoin="round"/><polyline points="784.53,216.42 785.30,229.40 772.32,230.17" fill="none" stroke="#000" stroke-width="2.5" stroke-linejoin="round"/><line x1="749.20" y1="256.00" x2="749.20" y2="285.20" stroke="#000" stroke-width="2.5" stroke-linecap="butt"/><polyline points="741.17,264.92 749.20,256.00 757.23,264.92" fill="none" stroke="#000" stroke-width="2.5" stroke-linejoin="round"/><polyline points="757.23,276.28 749.20,285.20 741.17,276.28" fill="none" stroke="#000" stroke-width="2.5" stroke-linejoin="round"/><line x1="713.20" y1="304.10" x2="769.00" y2="285.20" stroke="#000" stroke-width="3" stroke-linecap="butt"/><line x1="294.50" y1="431.00" x2="294.50" y2="496.40" stroke="#000" stroke-width="3" stroke-linecap="butt"/><line x1="249.80" y1="489.40" x2="288.80" y2="476.40" stroke="#000" stroke-width="3" stroke-linecap="butt"/><polyline points="261.80,494.39 249.80,489.40 256.41,478.21" fill="none" stroke="#000" stroke-width="3" stroke-linejoin="round"/><polyline points="276.80,471.41 288.80,476.40 282.19,487.59" fill="none" stroke="#000" stroke-width="3" stroke-linejoin="round"/><line x1="338.30" y1="486.60" x2="748.20" y2="352.00" stroke="#000" stroke-width="3" stroke-linecap="butt"/><polyline points="351.66,492.22 338.30,486.60 345.73,474.15" fill="none" stroke="#000" stroke-width="3" stroke-linejoin="round"/><polyline points="734.84,346.38 748.20,352.00 740.77,364.45" fill="none" stroke="#000" stroke-width="3" stroke-linejoin="round"/><line x1="771.40" y1="365.00" x2="700.00" y2="302.00" stroke="#000" stroke-width="3" stroke-linecap="butt"/><line x1="345.90" y1="505.20" x2="275.00" y2="433.00" stroke="#000" stroke-width="3" stroke-linecap="butt"/><line x1="243.40" y1="193.40" x2="243.40" y2="409.80" stroke="#000" stroke-width="3" stroke-linecap="butt"/><line x1="243.40" y1="445.00" x2="243.40" y2="513.70" stroke="#000" stroke-width="3" stroke-linecap="butt"/>
<line x1="268.6" y1="419.6" x2="291" y2="443.0" stroke="#fff" stroke-width="3.2"/>
<line x1="688.4" y1="287.7" x2="708" y2="305.0" stroke="#fff" stroke-width="3.2"/>
<line x1="265.8" y1="423.6" x2="300" y2="458.4" stroke="#000" stroke-width="3"/>
<line x1="686.0" y1="289.8" x2="720" y2="319.7" stroke="#000" stroke-width="3"/>
<text x="171.70" y="683.10" font-size="46.79" font-weight="700" fill="#231f20" textLength="27.37" lengthAdjust="spacingAndGlyphs" stroke="#fff" stroke-width="0.6">L</text><text x="212.76" y="683.45" font-size="47.79" font-weight="400" fill="#231f20" textLength="205.75" lengthAdjust="spacingAndGlyphs" stroke="#fff" stroke-width="1.3">(Length)</text><text x="432.21" y="683.10" font-size="46.79" font-weight="700" fill="#231f20" textLength="27.86" lengthAdjust="spacingAndGlyphs" stroke="#fff" stroke-width="0.6">=</text><text x="475.26" y="683.10" font-size="46.79" font-weight="700" fill="#231f20" textLength="171.26" lengthAdjust="spacingAndGlyphs" stroke="#fff" stroke-width="0.6">5-5/8in</text><text x="644.42" y="683.45" font-size="47.79" font-weight="400" fill="#231f20" textLength="207.62" lengthAdjust="spacingAndGlyphs" stroke="#fff" stroke-width="1.3">(143mm)</text><text x="218.50" y="743.10" font-size="46.79" font-weight="700" fill="#231f20" textLength="45.55" lengthAdjust="spacingAndGlyphs" stroke="#fff" stroke-width="0.6">W</text><text x="281.39" y="743.45" font-size="47.79" font-weight="400" fill="#231f20" textLength="182.69" lengthAdjust="spacingAndGlyphs" stroke="#fff" stroke-width="1.3">(Width)</text><text x="478.27" y="743.10" font-size="46.79" font-weight="700" fill="#231f20" textLength="26.73" lengthAdjust="spacingAndGlyphs" stroke="#fff" stroke-width="0.6">=</text><text x="519.17" y="743.10" font-size="46.79" font-weight="700" fill="#231f20" textLength="114.05" lengthAdjust="spacingAndGlyphs" stroke="#fff" stroke-width="0.6">1/2in</text><text x="629.24" y="743.45" font-size="47.79" font-weight="400" fill="#231f20" textLength="176.86" lengthAdjust="spacingAndGlyphs" stroke="#fff" stroke-width="1.3">(13mm)</text><text x="149.95" y="803.10" font-size="46.79" font-weight="700" fill="#231f20" textLength="29.30" lengthAdjust="spacingAndGlyphs" stroke="#fff" stroke-width="0.6">P</text><text x="194.32" y="803.45" font-size="47.79" font-weight="400" fill="#231f20" textLength="275.62" lengthAdjust="spacingAndGlyphs" stroke="#fff" stroke-width="1.3">(Projection)</text><text x="485.31" y="803.10" font-size="46.79" font-weight="700" fill="#231f20" textLength="25.94" lengthAdjust="spacingAndGlyphs" stroke="#fff" stroke-width="0.6">=</text><text x="525.29" y="803.10" font-size="46.79" font-weight="700" fill="#231f20" textLength="162.48" lengthAdjust="spacingAndGlyphs" stroke="#fff" stroke-width="0.6">1-3/8in</text><text x="685.81" y="803.45" font-size="47.79" font-weight="400" fill="#231f20" textLength="186.34" lengthAdjust="spacingAndGlyphs" stroke="#fff" stroke-width="1.3">(35mm)</text><text x="49.50" y="863.10" font-size="46.79" font-weight="700" fill="#231f20" textLength="32.25" lengthAdjust="spacingAndGlyphs" stroke="#fff" stroke-width="0.6">C</text><text x="97.86" y="863.45" font-size="47.79" font-weight="400" fill="#231f20" textLength="433.53" lengthAdjust="spacingAndGlyphs" stroke="#fff" stroke-width="1.3">(Center-to-Center)</text><text x="547.37" y="863.10" font-size="46.79" font-weight="700" fill="#231f20" textLength="28.65" lengthAdjust="spacingAndGlyphs" stroke="#fff" stroke-width="0.6">=</text><text x="590.85" y="863.10" font-size="46.79" font-weight="700" fill="#231f20" textLength="178.77" lengthAdjust="spacingAndGlyphs" stroke="#fff" stroke-width="0.6">5-1/16in</text><text x="768.56" y="863.45" font-size="47.79" font-weight="400" fill="#231f20" textLength="203.72" lengthAdjust="spacingAndGlyphs" stroke="#fff" stroke-width="1.3">(128mm)</text><text x="130.30" y="923.10" font-size="46.79" font-weight="700" fill="#231f20" textLength="61.79" lengthAdjust="spacingAndGlyphs" stroke="#fff" stroke-width="0.6">BL</text><text x="204.48" y="923.45" font-size="47.79" font-weight="400" fill="#231f20" textLength="330.59" lengthAdjust="spacingAndGlyphs" stroke="#fff" stroke-width="1.3">(Base Length)</text><text x="551.33" y="923.10" font-size="46.79" font-weight="700" fill="#231f20" textLength="25.60" lengthAdjust="spacingAndGlyphs" stroke="#fff" stroke-width="0.6">=</text><text x="594.37" y="923.10" font-size="46.79" font-weight="700" fill="#231f20" textLength="121.51" lengthAdjust="spacingAndGlyphs" stroke="#fff" stroke-width="0.6">5/8in</text><text x="715.44" y="923.45" font-size="47.79" font-weight="400" fill="#231f20" textLength="176.86" lengthAdjust="spacingAndGlyphs" stroke="#fff" stroke-width="1.3">(16mm)</text><text x="130.13" y="983.10" font-size="46.79" font-weight="700" fill="#231f20" textLength="81.71" lengthAdjust="spacingAndGlyphs" stroke="#fff" stroke-width="0.6">BW</text><text x="226.84" y="983.45" font-size="47.79" font-weight="400" fill="#231f20" textLength="309.18" lengthAdjust="spacingAndGlyphs" stroke="#fff" stroke-width="1.3">(Base Width)</text><text x="552.14" y="983.10" font-size="46.79" font-weight="700" fill="#231f20" textLength="25.48" lengthAdjust="spacingAndGlyphs" stroke="#fff" stroke-width="0.6">=</text><text x="594.87" y="983.10" font-size="46.79" font-weight="700" fill="#231f20" textLength="121.00" lengthAdjust="spacingAndGlyphs" stroke="#fff" stroke-width="0.6">5/8in</text><text x="715.44" y="983.45" font-size="47.79" font-weight="400" fill="#231f20" textLength="176.86" lengthAdjust="spacingAndGlyphs" stroke="#fff" stroke-width="1.3">(16mm)</text><text x="457.01" y="124.00" font-size="53.90" font-weight="700" fill="#000" textLength="31.16" lengthAdjust="spacingAndGlyphs" stroke="#fff" stroke-width="0.6">L</text><text x="314.50" y="249.05" font-size="53.05" font-weight="700" fill="#000" textLength="54.76" lengthAdjust="spacingAndGlyphs" stroke="#fff" stroke-width="0.6">W</text><text x="785.40" y="206.00" font-size="52.91" font-weight="700" fill="#000" textLength="33.11" lengthAdjust="spacingAndGlyphs" stroke="#fff" stroke-width="0.6">P</text><text x="776.70" y="287.70" font-size="52.62" font-weight="700" fill="#000" textLength="93.28" lengthAdjust="spacingAndGlyphs" stroke="#fff" stroke-width="0.6">BW</text><text x="533.13" y="468.20" font-size="55.18" font-weight="700" fill="#000" textLength="36.33" lengthAdjust="spacingAndGlyphs" stroke="#fff" stroke-width="0.6">C</text><text x="242.24" y="561.60" font-size="53.33" font-weight="700" fill="#000" textLength="69.45" lengthAdjust="spacingAndGlyphs" stroke="#fff" stroke-width="0.6">BL</text>
</svg></body></html>
